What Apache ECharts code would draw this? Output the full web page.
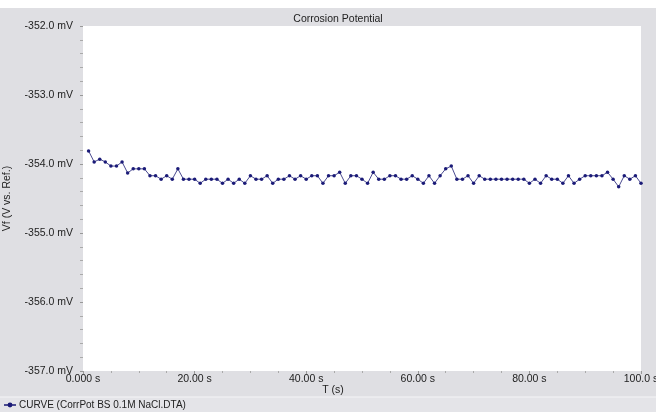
<!DOCTYPE html>
<html>
<head>
<meta charset="utf-8">
<title>Corrosion Potential</title>
<script src="https://cdn.jsdelivr.net/npm/echarts@6/dist/echarts.min.js"></script>
<style>
  html, body { margin: 0; padding: 0; background: #fff; }
  #chart { width: 656px; height: 412px; }
</style>
</head>
<body>
<div id="chart"></div>
<script>
// time in seconds, one reading per second
var times = [];
for (var i = 1; i <= 100; i++) times.push(i);

// Vf in mV
var vf = [
  -353.81, -353.97, -353.93, -353.97, -354.03, -354.03, -353.97, -354.13, -354.07, -354.07,
  -354.07, -354.17, -354.17, -354.22, -354.17, -354.22, -354.07, -354.22, -354.22, -354.22,
  -354.28, -354.22, -354.22, -354.22, -354.28, -354.22, -354.28, -354.22, -354.28, -354.17,
  -354.22, -354.22, -354.17, -354.28, -354.22, -354.22, -354.17, -354.22, -354.17, -354.22,
  -354.17, -354.17, -354.28, -354.17, -354.17, -354.12, -354.28, -354.17, -354.17, -354.22,
  -354.28, -354.12, -354.22, -354.22, -354.17, -354.17, -354.22, -354.22, -354.17, -354.22,
  -354.28, -354.17, -354.28, -354.17, -354.07, -354.03, -354.22, -354.22, -354.17, -354.28,
  -354.17, -354.22, -354.22, -354.22, -354.22, -354.22, -354.22, -354.22, -354.22, -354.28,
  -354.22, -354.28, -354.17, -354.22, -354.22, -354.28, -354.17, -354.28, -354.22, -354.17,
  -354.17, -354.17, -354.17, -354.12, -354.22, -354.33, -354.17, -354.22, -354.17, -354.28
];

var xTicks = [0, 20, 40, 60, 80, 100];
var yTicks = [-357, -356, -355, -354, -353, -352];

var seriesName = 'CURVE (CorrPot BS 0.1M NaCl.DTA)';
var font = 'Liberation Sans, Arial, sans-serif';

var pts = times.map(function (t, i) { return [t, vf[i]]; });

var chart = echarts.init(document.getElementById('chart'), null, { renderer: 'canvas' });
chart.setOption({
  backgroundColor: '#ffffff',
  animation: false,
  graphic: [
    // grey panel
    { type: 'rect', shape: { x: 0, y: 8, width: 656, height: 404 }, style: { fill: '#dfdfe3' }, z: -10 },
    // legend strip
    { type: 'rect', shape: { x: 0, y: 397, width: 656, height: 15 }, style: { fill: '#e4e4e8' }, z: -9 },
    { type: 'line', shape: { x1: 0, y1: 397, x2: 656, y2: 397 }, style: { stroke: '#f4f4f6', lineWidth: 1 }, z: -8 },
    { type: 'text', x: 333, y: 390, style: { text: 'T (s)', fill: '#222', font: '10.5px ' + font, textAlign: 'center', textVerticalAlign: 'middle' } }
  ],
  title: {
    text: 'Corrosion Potential',
    left: 333, top: 9,
    textAlign: 'center',
    textStyle: { fontFamily: font, fontSize: 10.5, fontWeight: 'normal', color: '#222' }
  },
  legend: {
    left: 3, bottom: 2, padding: 0,
    itemWidth: 12, itemHeight: 6, itemGap: 4,
    textStyle: { fontFamily: font, fontSize: 10, color: '#222', padding: [0, 0, 0, -2] },
    data: [seriesName]
  },
  grid: {
    left: 83, right: 15, top: 26, bottom: 41,
    outerBoundsMode: 'none', containLabel: false,
    backgroundColor: '#ffffff', show: true, borderWidth: 0
  },
  xAxis: {
    type: 'value',
    min: xTicks[0], max: xTicks[xTicks.length - 1], interval: 20,
    axisLine: { show: false },
    axisTick: { show: true, length: 3, lineStyle: { color: '#999' } },
    minorTick: { show: true, splitNumber: 4, length: 2, lineStyle: { color: '#aaa' } },
    splitLine: { show: false },
    axisLabel: {
      margin: 3, fontFamily: font, fontSize: 10.5, color: '#222',
      formatter: function (v) { return v.toPrecision(4) + ' s'; }
    }
  },
  yAxis: {
    type: 'value',
    min: yTicks[0], max: yTicks[yTicks.length - 1], interval: 1,
    name: 'Vf (V vs. Ref.)',
    nameLocation: 'middle', nameGap: 70, nameRotate: 90,
    nameTextStyle: { fontFamily: font, fontSize: 10.5, color: '#222' },
    axisLine: { show: false },
    axisTick: { show: true, length: 3, lineStyle: { color: '#999' } },
    minorTick: { show: true, splitNumber: 5, length: 3, lineStyle: { color: '#aaa' } },
    splitLine: { show: false },
    axisLabel: {
      margin: 10, fontFamily: font, fontSize: 10.5, color: '#222',
      formatter: function (v) { return v.toFixed(1) + ' mV'; }
    }
  },
  series: [{
    name: seriesName,
    type: 'line',
    data: pts,
    symbol: 'circle',
    symbolSize: 3.5,
    showSymbol: true,
    itemStyle: { color: '#1b1b78' },
    lineStyle: { color: '#4a4a90', width: 1 }
  }]
});
</script>
</body>
</html>
